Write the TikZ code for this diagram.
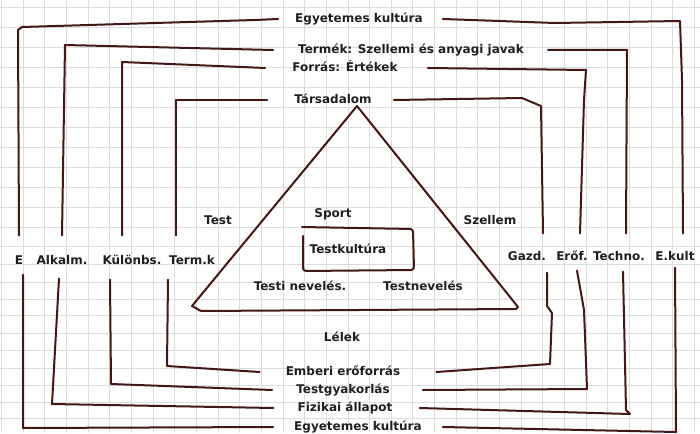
\documentclass[tikz,border=0pt]{standalone}
\usepackage{fontspec}
\setmainfont{DejaVu Sans}
\usepackage{xcolor}
\usepackage{tikz}
\definecolor{inkred}{RGB}{68,22,24}
\definecolor{gridgray}{RGB}{220,220,224}
\definecolor{penblack}{RGB}{35,30,30}

\begin{document}
\begin{tikzpicture}[
      x=1pt, y=-1pt,
      lbl/.style={font=\fontsize{12}{14}\selectfont\bfseries, text=penblack, inner sep=2pt, text height=10pt, text depth=3pt},
      ln/.style={draw=inkred, line width=2pt, line cap=round, line join=round},
      grid/.style={draw=gridgray, line width=0.8pt}
    ]
      \fill[white] (0,0) rectangle (700,433);
      \useasboundingbox (0,0) rectangle (700,433);
      \foreach \x in {0,...,32} \draw[grid] ({1.5+21.65*\x},0) -- ++(0,433);
      \foreach \y in {7,27,47,67,87,107,127,147,167,187,207,227,246,264,282,299,315,333,350,368,385,402,418} \draw[grid] (0,\y) -- ++(700,0);

      \node[lbl] (topegy) at (359,19) {Egyetemes kultúra};
      \node[lbl] (termek) at (411,50) {Termék: Szellemi és anyagi javak};
      \node[lbl] (forras) at (345,68) {Forrás: Értékek};
      \node[lbl] (tars) at (333,100) {Társadalom};

      \node[lbl] (le) at (19,261) {E};
      \node[lbl] (la) at (62,261) {Alkalm.};
      \node[lbl] (lk) at (132,261) {Különbs.};
      \node[lbl] (lt) at (192,261) {Term.k};
      \node[lbl] (rg) at (527,257) {Gazd.};
      \node[lbl] (re) at (572,257) {Erőf.};
      \node[lbl] (rt) at (619,257) {Techno.};
      \node[lbl] (rk) at (675,257) {E.kult};

      \node[lbl] (test) at (218,221) {Test};
      \node[lbl] (sport) at (333,214) {Sport};
      \node[lbl] (szellem) at (490,221) {Szellem};
      \node[lbl] (testk) at (348,250) {Testkultúra};
      \node[lbl] (tnev) at (300,287) {Testi nevelés.};
      \node[lbl] (tnevb) at (423,287) {Testnevelés};
      \node[lbl] (lelek) at (342,338) {Lélek};

      \node[lbl] (emb) at (343,372) {Emberi erőforrás};
      \node[lbl] (tgy) at (343,390) {Testgyakorlás};
      \node[lbl] (fiz) at (345,408) {Fizikai állapot};
      \node[lbl] (botegy) at (358,427) {Egyetemes kultúra};

      \draw[ln] (357,106) -- (192,306) -- (201,311) -- (516,309) -- (518,307) -- cycle;
      \draw[ln, rounded corners=3pt] (302,227) -- (413,229) -- (414,270) -- (303,271) -- (303,236);

      \draw[ln] ([xshift=-15pt]topegy.west) -- (255,20) -- (22,27) -- (18,30) -- ([xshift=0pt,yshift=17pt]le.north);
      \draw[ln] ([xshift=-23pt]termek.west) -- (65,45) -- ([yshift=17pt]la.north);
      \draw[ln] ([xshift=-25pt]forras.west) -- (122,62) -- ([xshift=-10pt,yshift=17pt]lk.north);
      \draw[ln] ([xshift=-25pt]tars.west) -- (176,100) -- ([xshift=-16pt,yshift=17pt]lt.north);

      \draw[ln] ([xshift=18pt]topegy.east) -- (555,23) -- (680,21) -- (682,80) -- ([xshift=8pt,yshift=15pt]rk.north);
      \draw[ln] ([xshift=22pt]termek.east) -- (627,50) -- ([xshift=7pt,yshift=15pt]rt.north);
      \draw[ln] ([xshift=28pt]forras.east) -- (586,70) -- (584,100) -- ([xshift=8pt,yshift=15pt]re.north);
      \draw[ln] ([xshift=20pt]tars.east) -- (522,98) -- (541,106) -- ([xshift=16pt,yshift=15pt]rg.north);

      \draw[ln] ([xshift=-24pt]emb.west) -- (167,366) -- ([xshift=-24pt,yshift=-10pt]lt.south);
      \draw[ln] ([xshift=-22pt]tgy.west) -- (111,384) -- ([xshift=-22pt,yshift=-10pt]lk.south);
      \draw[ln] ([xshift=-22pt]fiz.west) -- (52,404) -- ([xshift=-3pt,yshift=-9pt]la.south);
      \draw[ln] ([xshift=-19pt]botegy.west) -- (23,428) -- ([xshift=4pt,yshift=-5pt]le.south);

      \draw[ln] ([xshift=34pt]emb.east) -- (550,364) -- (552,313) -- (547,306) -- ([xshift=20pt,yshift=-7pt]rg.south);
      \draw[ln] ([xshift=31pt]tgy.east) -- (587,389) -- (584,310) -- ([xshift=5pt,yshift=-5pt]re.south);
      \draw[ln] ([xshift=25pt]fiz.east) -- (630,414) -- (626,410) -- ([xshift=4pt,yshift=-6pt]rt.south);
      \draw[ln] ([xshift=19pt]botegy.east) -- (676,432) -- ([yshift=-2pt]rk.south);
    \end{tikzpicture}
\end{document}
